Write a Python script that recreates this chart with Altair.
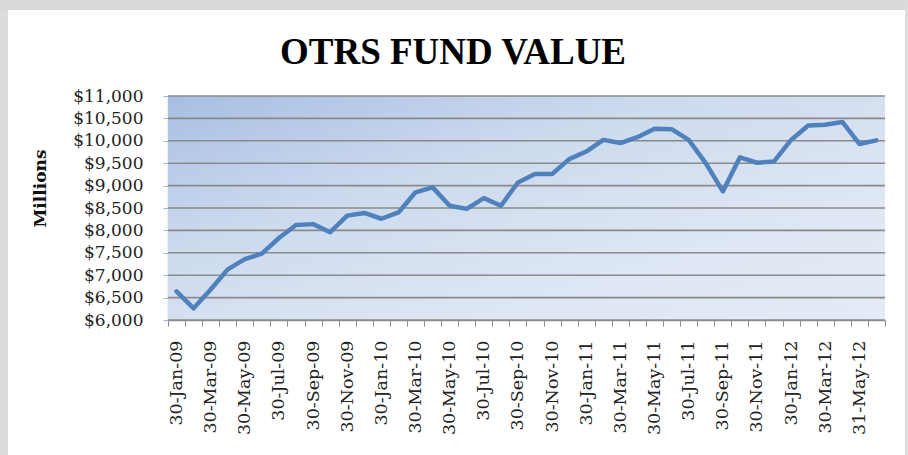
import altair as alt
import pandas as pd

dates = [
    "30-Jan-09", "28-Feb-09", "30-Mar-09", "30-Apr-09", "30-May-09", "30-Jun-09",
    "30-Jul-09", "30-Aug-09", "30-Sep-09", "30-Oct-09", "30-Nov-09", "30-Dec-09",
    "30-Jan-10", "28-Feb-10", "30-Mar-10", "30-Apr-10", "30-May-10", "30-Jun-10",
    "30-Jul-10", "30-Aug-10", "30-Sep-10", "30-Oct-10", "30-Nov-10", "30-Dec-10",
    "30-Jan-11", "28-Feb-11", "30-Mar-11", "30-Apr-11", "30-May-11", "30-Jun-11",
    "30-Jul-11", "30-Aug-11", "30-Sep-11", "30-Oct-11", "30-Nov-11", "30-Dec-11",
    "30-Jan-12", "29-Feb-12", "30-Mar-12", "30-Apr-12", "31-May-12", "30-Jun-12",
]
values = [
    6640, 6260, 6680, 7130, 7360, 7480, 7830, 8120, 8140, 7960, 8330, 8390,
    8260, 8400, 8850, 8960, 8550, 8480, 8720, 8550, 9070, 9260, 9260, 9590,
    9760, 10020, 9950, 10080, 10270, 10260, 10020, 9500, 8870, 9630, 9510, 9540,
    10020, 10340, 10360, 10420, 9930, 10010,
]
y_ticks = list(range(6000, 11001, 500))
title_text = "OTRS FUND VALUE"

df = pd.DataFrame({"date": dates, "value": values})
grid_df = pd.DataFrame({"value": y_ticks})

SERIF = "DejaVu Serif"

gradient = alt.LinearGradient(
    gradient="linear",
    x1=0, y1=0, x2=1, y2=1,
    stops=[
        alt.GradientStop(color="#a7bee3", offset=0),
        alt.GradientStop(color="#cddaee", offset=0.35),
        alt.GradientStop(color="#dde6f3", offset=0.7),
        alt.GradientStop(color="#e4ebf5", offset=1),
    ],
)

y_scale = alt.Scale(domain=[6000, 11000], nice=False, zero=False)
y_axis = alt.Axis(
    values=y_ticks,
    format="$,.0f",
    title="Millions",
    titleFont=SERIF,
    titleFontSize=17,
    titleFontWeight="bold",
    titleColor="#111111",
    titleAngle=-90,
    titleX=-128,
    titleY=92,
    titleAlign="center",
    titleBaseline="middle",
    labelFont=SERIF,
    labelFontSize=17,
    labelColor="#222222",
    labelPadding=20,
    labelOverlap=False,
    labelBound=False,
    labelFlush=False,
    tickSize=5,
    tickColor="#9fb6da",
    domainColor="#a9bfe0",
    domainWidth=1.5,
    grid=False,
)

frame_data = alt.Data(values=[{"k": 1}])

plot_bg = alt.Chart(frame_data).mark_rect(color=gradient).encode(
    x=alt.value(0), x2=alt.value(717), y=alt.value(0), y2=alt.value(224)
)

grid = alt.Chart(grid_df).mark_rule(color="#8a8a8a", strokeWidth=1.6).encode(
    y=alt.Y("value:Q", scale=y_scale, axis=y_axis),
    x=alt.value(0),
    x2=alt.value(717),
)

line = alt.Chart(df).mark_line(
    color="#4f81bd", strokeWidth=4.5, strokeJoin="round", strokeCap="round"
).encode(
    x=alt.X(
        "date:N",
        sort=None,
        scale=alt.Scale(paddingInner=0, paddingOuter=0),
        axis=alt.Axis(
            title=None,
            labelAngle=-90,
            labelAlign="right",
            labelBaseline="middle",
            labelFont=SERIF,
            labelFontSize=17.5,
            labelColor="#222222",
            labelPadding=14,
            labelOverlap=False,
            labelExpr="test(/Jan|Mar|May|Jul|Sep|Nov/, datum.label) ? datum.label : ''",
            tickBand="extent",
            tickSize=6,
            tickColor="#8a8a8a",
            tickWidth=1,
            domainColor="#8a8a8a",
            domainWidth=1.5,
            grid=False,
        ),
    ),
    y=alt.Y("value:Q", scale=y_scale, axis=y_axis),
)

title_mark = alt.Chart(frame_data).mark_text(
    font="Liberation Serif",
    fontSize=37,
    fontWeight="bold",
    color="#000000",
    align="center",
    baseline="alphabetic",
).encode(
    x=alt.value(285), y=alt.value(-32), text=alt.value(title_text)
)

left_strip = alt.Chart(frame_data).mark_rect(color="#dcdcdc").encode(
    x=alt.value(-168), x2=alt.value(-160), y=alt.value(-96), y2=alt.value(359)
)
top_strip = alt.Chart(frame_data).mark_rect(color="#d9d9d9").encode(
    x=alt.value(-168), x2=alt.value(740), y=alt.value(-96), y2=alt.value(-86)
)
right_strip = alt.Chart(frame_data).mark_rect(color="#dcdcdc").encode(
    x=alt.value(737), x2=alt.value(740), y=alt.value(-96), y2=alt.value(359)
)

chart = alt.layer(
    left_strip, top_strip, right_strip, plot_bg, grid, line, title_mark
).properties(
    width=717,
    height=224,
    autosize=alt.AutoSizeParams(type="none"),
    padding={"left": 168, "top": 96, "right": 23, "bottom": 135},
    background="white",
).configure_view(
    stroke=None,
)

chart.save("out.html", embed_options={"renderer": "svg", "actions": False})
